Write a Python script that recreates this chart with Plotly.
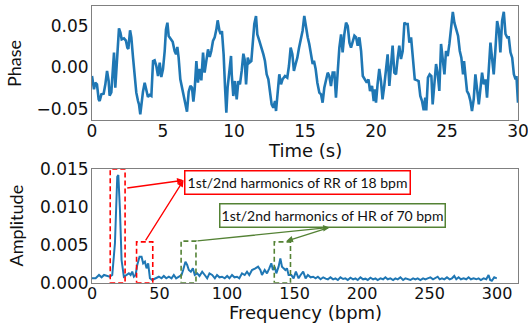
import plotly.graph_objects as go

# ---------------- data: phase signal (top) ----------------
t_a = [0.0, 0.14, 0.23, 0.35, 0.47, 0.54, 0.66, 0.82, 0.94, 1.06,
       1.17, 1.24, 1.36, 1.45, 1.55, 1.64, 1.74, 1.83, 1.90, 2.0,
       2.09, 2.25, 2.39, 2.49, 2.56, 2.68, 2.77, 2.89, 3.0, 3.12,
       3.24, 3.31, 3.40, 3.5, 3.59, 3.71, 3.83, 3.94, 4.06, 4.18,
       4.30, 4.41, 4.53, 4.65, 4.77, 4.88, 5.0, 5.12, 5.21, 5.31,
       5.40, 5.54, 5.68, 5.82, 5.92, 6.01, 6.10, 6.22, 6.34, 6.46,
       6.57, 6.69, 6.81, 6.93, 7.04, 7.14, 7.23, 7.35, 7.46, 7.58,
       7.70, 7.82, 7.93, 8.05, 8.17, 8.29, 8.40, 8.52, 8.64, 8.76,
       8.85, 8.97, 9.06, 9.15, 9.27, 9.37, 9.46, 9.55, 9.67, 9.79]
phase_a = [-0.0104, -0.0264, -0.0184, -0.0204, -0.0384, -0.0404, -0.0324, -0.0316, -0.0204, -0.0044,
           -0.016, -0.034, -0.030, 0.0, 0.0176, -0.0244, 0.0056, 0.0316, 0.0468, 0.0416,
           0.0336, 0.0348, 0.032, 0.0236, 0.022, 0.0444, 0.036, 0.0116, -0.0064, -0.0304,
           -0.0404, -0.0444, -0.0564, -0.0404, -0.0292, -0.0184, -0.030, -0.0356, -0.0332, -0.0344,
           0.0076, 0.0084, 0.0016, -0.0104, 0.0056, -0.0116, -0.002, 0.0196, 0.0456, 0.0536,
           0.0376, 0.0344, 0.0308, 0.0196, 0.0156, 0.0244, 0.0116, -0.0144, -0.0244, -0.0384,
           -0.0436, -0.0532, -0.0292, -0.0224, -0.0244, -0.0412, -0.0264, 0.0076, -0.0184, -0.002,
           -0.0156, 0.0176, -0.0064, 0.0116, 0.0216, 0.0124, 0.0196, 0.0316, 0.036, 0.0456,
           0.0564, 0.0444, 0.040, 0.0436, 0.0156, -0.0244, -0.0544, -0.0244, -0.0044, 0.0136]

t_b = [9.84, 9.95, 10.07, 10.19, 10.31, 10.42, 10.54, 10.66, 10.75, 10.85,
       10.97, 11.08, 11.22, 11.31, 11.43, 11.55, 11.64, 11.78, 11.90, 12.07,
       12.18, 12.30, 12.42, 12.54, 12.65, 12.77, 12.89, 12.96, 13.07, 13.19,
       13.31, 13.42, 13.59, 13.75, 13.87, 13.99, 14.11, 14.22, 14.34, 14.46,
       14.58, 14.69, 14.83, 14.95, 15.07, 15.19, 15.30, 15.42, 15.54, 15.63,
       15.75, 15.87, 16.01, 16.13, 16.24, 16.36, 16.48, 16.60, 16.71, 16.83,
       16.95, 17.07, 17.18, 17.30, 17.42, 17.54, 17.65, 17.77, 17.89, 18.01,
       18.13, 18.24, 18.36, 18.48, 18.60, 18.71, 18.83, 18.95, 19.07, 19.19,
       19.35, 19.47, 19.58]
phase_b = [-0.0084, -0.0344, -0.0164, -0.0384, -0.0164, -0.0204, -0.0044, 0.0164, 0.0096, -0.0204,
           0.0116, 0.0056, 0.0076, 0.032, 0.052, 0.0616, 0.0396, 0.032, 0.026, 0.0156,
           0.0076, -0.0084, -0.0144, -0.0324, -0.0444, -0.0484, -0.0404, -0.0524, -0.0324, -0.0084,
           -0.0204, -0.0144, -0.0104, -0.0124, 0.0016, 0.0236, 0.0156, -0.0044, 0.004, 0.0116,
           0.0236, 0.032, 0.044, 0.0616, 0.0456, 0.036, 0.028, 0.018, 0.004, 0.008,
           -0.002, -0.0184, -0.0304, -0.0324, -0.0424, -0.0244, -0.0164, -0.0064, -0.0104, -0.0224,
           -0.0064, -0.0064, -0.0364, -0.0044, 0.0236, 0.0396, 0.018, 0.0396, 0.0536, 0.0496,
           0.0296, 0.0236, 0.032, 0.038, 0.036, 0.026, 0.036, 0.0196, -0.0104, -0.0144,
           -0.0184, -0.0144, -0.0284]

t_c = [19.72, 19.84, 19.93, 20.0, 20.11, 20.23, 20.35, 20.46, 20.58, 20.70,
       20.82, 20.94, 21.06, 21.17, 21.29, 21.41, 21.53, 21.64, 21.76, 21.88,
       22.0, 22.11, 22.23, 22.35, 22.47, 22.59, 22.73, 22.90, 23.0, 23.12,
       23.24, 23.36, 23.47, 23.54, 23.66, 23.78, 23.90, 23.99, 24.11, 24.23,
       24.35, 24.46, 24.58, 24.70, 24.82, 24.93, 25.05, 25.17, 25.29, 25.41,
       25.52, 25.64, 25.78, 25.90, 26.01, 26.13, 26.20, 26.29, 26.41, 26.53,
       26.65, 26.76, 26.88, 27.00, 27.12, 27.24, 27.35, 27.47, 27.59, 27.71,
       27.82, 27.94, 28.06, 28.17, 28.29, 28.41, 28.53, 28.65, 28.76, 28.88,
       29.00, 29.12, 29.24, 29.35, 29.47, 29.59, 29.71, 29.83, 29.89, 30.0]
phase_c = [-0.0224, -0.0404, -0.0264, -0.0424, -0.0204, -0.002, -0.0164, -0.0384, -0.0224, -0.0044,
           0.0156, -0.0224, 0.0016, 0.026, -0.0064, -0.0084, 0.0116, 0.026, 0.010, 0.0196,
           0.0536, 0.052, 0.052, 0.0296, 0.036, 0.0156, -0.0144, -0.0156, -0.0164, -0.0344,
           -0.0404, -0.0516, -0.0364, -0.0516, -0.0124, -0.0084, -0.0104, -0.0444, -0.0164, 0.004,
           -0.0084, -0.0284, 0.028, 0.0056, -0.0084, 0.0196, 0.0136, 0.0284, 0.0476, 0.0664,
           0.0536, 0.0456, 0.0376, 0.0196, 0.0116, -0.0084, 0.0076, -0.0084, -0.0284, -0.0324,
           -0.0404, -0.0524, -0.0384, -0.0084, -0.0244, -0.0444, -0.0264, -0.0064, -0.0204, -0.0144,
           -0.0364, 0.004, 0.0296, 0.0116, -0.0084, 0.0216, 0.0556, 0.0456, 0.018, 0.0556,
           0.0666, 0.040, 0.036, 0.036, 0.018, 0.0116, -0.0084, -0.0144, -0.0104, -0.0424]

time_s = t_a + t_b + t_c
phase = phase_a + phase_b + phase_c

# ---------------- data: spectrum (bottom) ----------------
freq_a = [0, 2.7, 5.2, 7.1, 8.9, 11.3, 13.1, 15.0, 17.0, 18.7,
          19.5, 20.7, 21.9, 23.6, 25.4, 27.3, 28.6, 29.8, 31.0, 32.3,
          33.5, 35.2, 36.7, 37.9, 39.2, 40.4, 41.6, 42.9, 44.6, 47.1,
          49.5, 51.5, 53.2, 55.0, 56.9, 58.9, 60.6, 62.3, 64.3, 66.3,
          67.5, 69.2, 70.5, 71.7, 73.2, 74.7, 76.1, 77.9, 79.6, 81.6,
          83.5, 85.3, 87.0, 89.0, 91.0, 92.6, 94.4, 96.3, 98.3, 100.1,
          101.8, 103.7, 105.5, 107.4, 109.1, 111.1, 113.1, 114.8, 116.5, 118.5,
          121.0, 123.0, 124.7, 125.9, 127.9, 129.6, 131.3, 132.8, 134.0, 135.3,
          136.5, 138.2, 139.5, 140.7, 141.9, 143.2, 144.4, 145.6, 147.6, 149.3,
          151.0, 153.0]
amp_a = [0.00058, 0.00058, 0.00102, 0.00071, 0.00102, 0.00089, 0.00079, 0.00102, 0.00521, 0.01402,
         0.01425, 0.00962, 0.0030, 0.00079, 0.00102, 0.00124, 0.00102, 0.00146, 0.00079, 0.00102,
         0.00234, 0.00344, 0.00344, 0.00256, 0.00278, 0.0019, 0.00256, 0.00058, 0.00036, 0.00058,
         0.00079, 0.00058, 0.00089, 0.00058, 0.00079, 0.00058, 0.00102, 0.00058, 0.00079, 0.00102,
         0.00168, 0.00278, 0.00234, 0.00168, 0.00146, 0.0019, 0.00102, 0.00124, 0.00089, 0.00146,
         0.00102, 0.00058, 0.00124, 0.00102, 0.00058, 0.00102, 0.00071, 0.00079, 0.00058, 0.00089,
         0.00058, 0.00102, 0.00071, 0.00079, 0.00058, 0.00124, 0.00102, 0.00146, 0.00102, 0.00168,
         0.0019, 0.00212, 0.00168, 0.00102, 0.00168, 0.00124, 0.0019, 0.00256, 0.00168, 0.00212,
         0.00124, 0.00212, 0.00322, 0.00212, 0.0019, 0.00168, 0.0019, 0.00102, 0.00102, 0.00058,
         0.00146, 0.00058]

freq_b = [154.5, 156.4, 158.2, 159.9, 161.9, 163.8, 165.6, 167.3, 169.3, 171.2,
          173.0, 174.7, 176.6, 178.6, 180.3, 182.1, 184.0, 186.0, 187.7, 189.4,
          191.4, 193.4, 195.1, 196.8, 198.8, 200.8, 202.5, 204.2, 206.2, 208.2,
          209.9, 211.6, 213.6, 215.6, 217.3, 219.0, 221.0, 223.0, 224.7, 226.4,
          228.4, 230.4, 232.1, 233.8, 235.8, 237.8, 239.5, 241.2, 243.2, 245.2,
          246.9, 248.6, 250.6, 252.6, 254.3, 256.0, 257.5, 259.2, 260.9, 262.9,
          264.9, 266.6, 268.3, 269.8, 271.5, 273.2, 275.2, 277.2, 278.9, 280.6,
          282.6, 284.6, 286.3, 288.0, 290.0, 292.0, 293.7, 294.9, 296.1, 297.9,
          299.8]
amp_b = [0.00102, 0.00146, 0.00058, 0.00102, 0.00071, 0.00079, 0.00058, 0.00079, 0.00045, 0.00071,
         0.00053, 0.00045, 0.00071, 0.00045, 0.00058, 0.00036, 0.00071, 0.00049, 0.00058, 0.00036,
         0.00067, 0.00045, 0.00058, 0.00036, 0.00071, 0.00045, 0.00053, 0.00036, 0.00067, 0.00045,
         0.00058, 0.00036, 0.00058, 0.00045, 0.00071, 0.00045, 0.00058, 0.00036, 0.00058, 0.00045,
         0.00071, 0.00036, 0.00058, 0.00045, 0.00036, 0.00058, 0.00045, 0.00058, 0.00036, 0.00058,
         0.00045, 0.00058, 0.00071, 0.00045, 0.00058, 0.00079, 0.00045, 0.00058, 0.00045, 0.00071,
         0.00045, 0.00058, 0.00089, 0.00045, 0.00071, 0.00045, 0.00058, 0.00045, 0.00071, 0.00045,
         0.00058, 0.00045, 0.00058, 0.00036, 0.00058, 0.00045, 0.00102, 0.00036, 0.00026, 0.00071,
         0.00058]

freq_bpm = freq_a + freq_b
amplitude = amp_a + amp_b

# ---------------- annotation content ----------------
rr_label = "1st/2nd harmonics of RR of 18 bpm"
hr_label = "1st/2nd harmonics of HR of 70 bpm"
rr_boxes = [(13.5, 24.5, 0.015), (33, 45, 0.0054)]      # (x0, x1, top)
hr_boxes = [(66, 77, 0.0055), (135, 147, 0.0054)]

RED = "#ff0000"
GREEN = "#548235"
BLUE = "#1f77b4"
AXC = "#808080"
TXT = "#111111"
TICKFONT = dict(family="DejaVu Sans", size=17, color=TXT)
TICKFONT_X2 = dict(family="DejaVu Sans", size=16, color=TXT)

W, H = 528, 325
ML, MR, MT, MB = 92, 10, 6, 42
PW, PH = W - ML - MR, H - MT - MB


def px_x(px):
    return (px - ML) / PW


def px_y(py):
    return (H - MB - py) / PH


fig = go.Figure()
fig.add_trace(go.Scatter(x=time_s, y=phase, mode="lines",
                         line=dict(color=BLUE, width=2.6), xaxis="x", yaxis="y",
                         showlegend=False))
fig.add_trace(go.Scatter(x=freq_bpm, y=amplitude, mode="lines",
                         line=dict(color=BLUE, width=2.0), xaxis="x2", yaxis="y2",
                         showlegend=False))

axis_common = dict(showline=True, mirror=True, linecolor=AXC, linewidth=1,
                   ticks="", showgrid=False,
                   zeroline=False, automargin=False,
                   ticklabeloverflow="allow")

fig.update_layout(
    width=W, height=H,
    margin=dict(l=ML, r=MR, t=MT, b=MB),
    paper_bgcolor="white", plot_bgcolor="white",
    xaxis=dict(domain=[0, 1], anchor="y", range=[0, 30], tickfont=TICKFONT,
               tickvals=[0, 5, 10, 15, 20, 25, 30], ticklabelstandoff=-4, **axis_common),
    yaxis=dict(domain=[px_y(120), px_y(6)], anchor="x", range=[-0.0632, 0.0736],
               tickvals=[-0.05, 0.0, 0.05], tickformat=".2f", ticklabelstandoff=-1,
               tickfont=TICKFONT, **axis_common),
    xaxis2=dict(domain=[0, 1], anchor="y2", range=[0, 315.5], tickfont=TICKFONT_X2,
                tickvals=[0, 50, 100, 150, 200, 250, 300], ticklabelstandoff=-4,
                **axis_common),
    yaxis2=dict(domain=[px_y(282.7), px_y(169.3)], anchor="x2", range=[0, 0.015],
                tickvals=[0, 0.005, 0.010, 0.015], tickformat=".3f", ticklabelstandoff=-1,
                tickfont=TICKFONT, **axis_common),
)

shapes = []
for (x0, x1, top) in rr_boxes:
    shapes.append(dict(type="rect", xref="x2", yref="y2", x0=x0, x1=x1, y0=0, y1=top,
                       line=dict(color=RED, width=1.6, dash="5px,3px")))
for (x0, x1, top) in hr_boxes:
    shapes.append(dict(type="rect", xref="x2", yref="y2", x0=x0, x1=x1, y0=0, y1=top,
                       line=dict(color=GREEN, width=1.6, dash="5px,3px")))
fig.update_layout(shapes=shapes)

title_sans = dict(family="DejaVu Sans", size=18, color=TXT)
title_cal = dict(family="Lato", size=18, color=TXT)
ann_font = dict(family="Lato", size=14, color=TXT)
annotations = [
    # axis titles
    dict(x=px_x(305), y=px_y(150), xref="paper", yref="paper", text="Time (s)",
         showarrow=False, font=title_sans, xanchor="center", yanchor="middle"),
    dict(x=px_x(305), y=px_y(312), xref="paper", yref="paper", text="Frequency (bpm)",
         showarrow=False, font=title_sans, xanchor="center", yanchor="middle"),
    dict(x=px_x(14), y=px_y(64), xref="paper", yref="paper", text="Phase",
         showarrow=False, font=title_cal, textangle=-90, xanchor="center", yanchor="middle"),
    dict(x=px_x(16), y=px_y(225.5), xref="paper", yref="paper", text="Amplitude",
         showarrow=False, font=title_cal, textangle=-90, xanchor="center", yanchor="middle"),
    # labelled boxes
    dict(x=152, y=0.01326, xref="x2", yref="y2", text=rr_label, showarrow=False,
         font=ann_font, bgcolor="white", bordercolor=RED, borderwidth=1.5,
         width=224, height=22, borderpad=0),
    dict(x=178, y=0.00891, xref="x2", yref="y2", text=hr_label, showarrow=False,
         font=ann_font, bgcolor="white", bordercolor=GREEN, borderwidth=1.5,
         width=224, height=22, borderpad=0),
    # arrows
    dict(x=67.8, y=0.01355, ax=25, ay=0.0125, xref="x2", yref="y2", axref="x2", ayref="y2",
         text="", showarrow=True, arrowhead=2, arrowsize=1, arrowwidth=1.3, arrowcolor=RED),
    dict(x=67.8, y=0.01355, ax=39, ay=0.0054, xref="x2", yref="y2", axref="x2", ayref="y2",
         text="", showarrow=True, arrowhead=2, arrowsize=1, arrowwidth=1.3, arrowcolor=RED),
    dict(x=176, y=0.0073, ax=77, ay=0.0055, xref="x2", yref="y2", axref="x2", ayref="y2",
         text="", showarrow=True, arrowhead=2, arrowsize=1, arrowwidth=1.3, arrowcolor=GREEN),
    dict(x=144, y=0.0055, ax=176, ay=0.0073, xref="x2", yref="y2", axref="x2", ayref="y2",
         text="", showarrow=True, arrowhead=2, arrowsize=1, arrowwidth=1.3, arrowcolor=GREEN),
]
fig.update_layout(annotations=annotations)

fig.write_html("out.html", config={"displayModeBar": False},
               post_script="document.body.style.margin='0';")
